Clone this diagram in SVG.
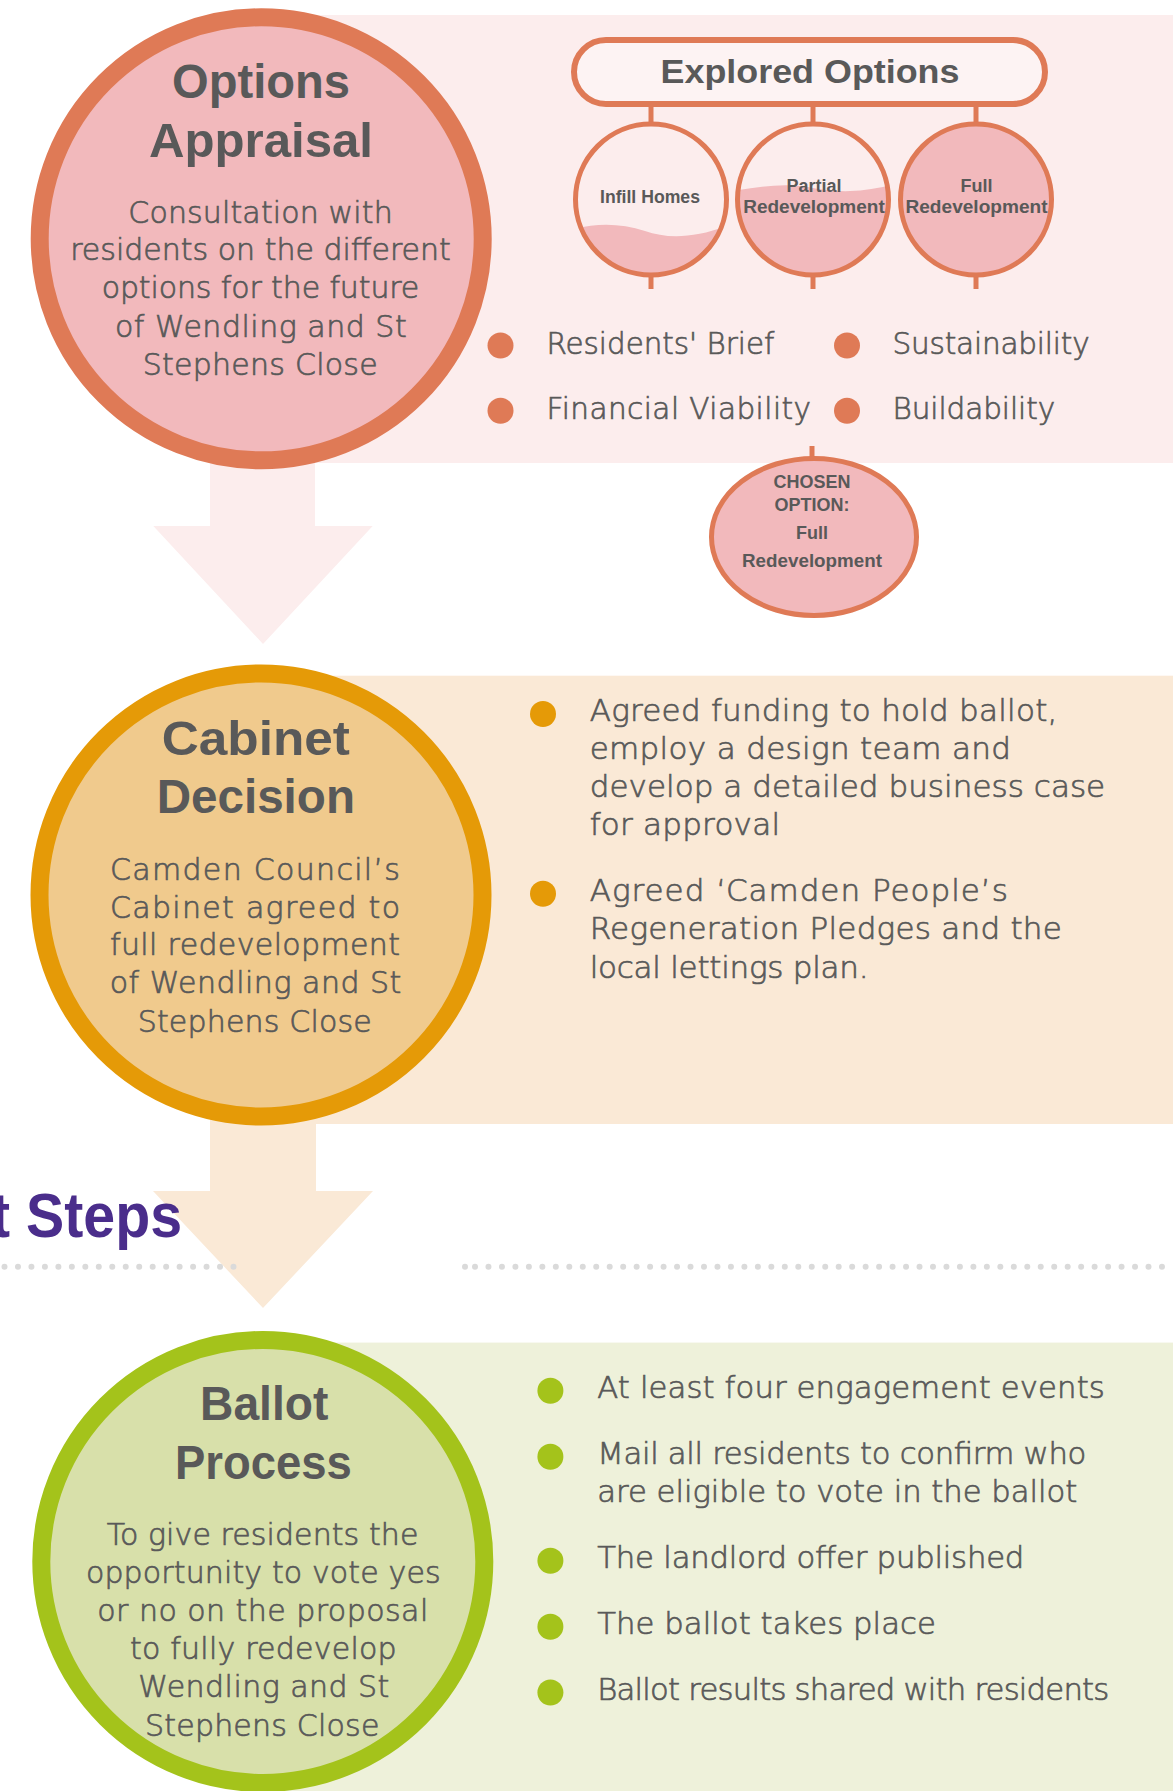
<svg xmlns="http://www.w3.org/2000/svg" width="1173" height="1791" viewBox="0 0 1173 1791">
  <style>
    .title { font-family: "Liberation Sans", Arial, sans-serif; font-weight: bold; font-size: 48px; fill: #595959; text-anchor: middle; }
    .body { font-family: "DejaVu Sans", Verdana, sans-serif; font-weight: 300; font-size: 30px; fill: #595959; stroke: #595959; stroke-width: 0.7; text-anchor: middle; }
    .bullet { font-family: "DejaVu Sans", Verdana, sans-serif; font-weight: 300; fill: #595959; stroke: #595959; stroke-width: 0.7; }
    .opt { font-family: "Liberation Sans", Arial, sans-serif; font-weight: bold; font-size: 18px; fill: #595959; text-anchor: middle; }
    .dot-pink { fill: #DF7A56; }
    .dot-orange { fill: #E59A07; }
    .dot-green { fill: #A4C31B; }
    .rule { stroke: #DADADA; stroke-width: 6; stroke-linecap: round; stroke-dasharray: 0 13.47; fill: none; }
  </style>
  <defs>
    <clipPath id="clip-infill"><circle cx="651" cy="199.5" r="75.5"/></clipPath>
    <clipPath id="clip-partial"><circle cx="813" cy="199.5" r="75.5"/></clipPath>
  </defs>

  <rect width="1173" height="1791" fill="#FFFFFF"/>

  <!-- background bands for each stage -->
  <g id="bands">
    <rect x="261" y="15" width="912" height="448" fill="#FCEDED"/>
    <rect x="261" y="675.7" width="912" height="448.3" fill="#FAE9D6"/>
    <rect x="261" y="1342.6" width="912" height="448.4" fill="#EEF1DA"/>
  </g>

  <!-- flow arrows and option links -->
  <g id="connectors">
    <polygon points="210,440 315,440 315,526 372.7,526 263,644 153.3,526 210,526" fill="#FCEDED"/>
    <polygon points="210,1100 316,1100 316,1191 373,1191 263,1308 153,1191 210,1191" fill="#FAE9D6"/>
    <g stroke="#DF7A56" stroke-width="5" fill="none">
      <line x1="651" y1="104" x2="651" y2="124"/>
      <line x1="813" y1="104" x2="813" y2="124"/>
      <line x1="976" y1="104" x2="976" y2="124"/>
      <line x1="651" y1="275" x2="651" y2="289"/>
      <line x1="813" y1="275" x2="813" y2="289"/>
      <line x1="976" y1="275" x2="976" y2="289"/>
      <line x1="812" y1="446" x2="812" y2="460"/>
    </g>
  </g>

  <!-- section divider -->
  <g id="next-steps-divider">
    <line class="rule" x1="4.5" y1="1266.7" x2="235" y2="1266.7"/>
    <circle cx="465" cy="1266.7" r="3" fill="#DADADA"/>
    <line class="rule" x1="475" y1="1266.7" x2="1173" y2="1266.7"/>
    <text x="-9" y="1237.3" font-family="Liberation Sans, Arial, sans-serif" font-weight="bold" font-size="63" fill="#4A2D8B" textLength="191" lengthAdjust="spacingAndGlyphs">t Steps</text>
  </g>

  <!-- stage 1 -->
  <g id="options-appraisal">
    <circle cx="261.2" cy="238.8" r="221.5" fill="#F2B9BC" stroke="#DF7A56" stroke-width="18"/>
    <text class="title" x="261" y="98.3" textLength="178" lengthAdjust="spacingAndGlyphs">Options</text>
    <text class="title" x="261" y="156.7" textLength="224" lengthAdjust="spacingAndGlyphs">Appraisal</text>
    <text class="body" x="260.5" y="222.5" textLength="264.4">Consultation with</text>
    <text class="body" x="260.5" y="260.3" textLength="380.7">residents on the different</text>
    <text class="body" x="260.5" y="298" textLength="317.6">options for the future</text>
    <text class="body" x="260.8" y="336.5" textLength="291.7">of Wendling and St</text>
    <text class="body" x="260.2" y="375" textLength="235">Stephens Close</text>
  </g>

  <g id="explored-options">
    <rect x="574" y="40" width="471" height="64" rx="32" fill="#FDF3F3" stroke="#DF7A56" stroke-width="6"/>
    <text x="810" y="83" font-family="Liberation Sans, Arial, sans-serif" font-weight="bold" font-size="33" fill="#595959" text-anchor="middle" textLength="299" lengthAdjust="spacingAndGlyphs">Explored Options</text>
  </g>

  <g id="option-infill">
    <circle cx="651" cy="199.5" r="75.5" fill="#FCEDED"/>
    <path clip-path="url(#clip-infill)" d="M 570 230 C 595 223, 620 223, 645 231 C 668 239, 695 239, 735 223 L 735 285 L 570 285 Z" fill="#F2B9BC"/>
    <circle cx="651" cy="199.5" r="75.5" fill="none" stroke="#DF7A56" stroke-width="5"/>
    <text class="opt" x="650" y="203" textLength="100" lengthAdjust="spacingAndGlyphs">Infill Homes</text>
  </g>

  <g id="option-partial">
    <circle cx="813" cy="199.5" r="75.5" fill="#FCEDED"/>
    <path clip-path="url(#clip-partial)" d="M 732 191 C 758 187, 782 183, 808 187 C 832 192, 858 194, 895 184 L 895 285 L 732 285 Z" fill="#F2B9BC"/>
    <circle cx="813" cy="199.5" r="75.5" fill="none" stroke="#DF7A56" stroke-width="5"/>
    <text class="opt" x="814" y="192">Partial</text>
    <text class="opt" x="814" y="213" textLength="141.6" lengthAdjust="spacingAndGlyphs">Redevelopment</text>
  </g>

  <g id="option-full">
    <circle cx="976" cy="199.5" r="75.5" fill="#F2B9BC" stroke="#DF7A56" stroke-width="5"/>
    <text class="opt" x="976.5" y="192">Full</text>
    <text class="opt" x="976.5" y="213" textLength="142" lengthAdjust="spacingAndGlyphs">Redevelopment</text>
  </g>

  <g id="appraisal-criteria">
    <circle class="dot-pink" cx="500.5" cy="345.5" r="13"/>
    <circle class="dot-pink" cx="500.5" cy="410.7" r="13"/>
    <circle class="dot-pink" cx="847" cy="345.5" r="13"/>
    <circle class="dot-pink" cx="847" cy="410.7" r="13"/>
    <text class="bullet" font-size="29.5" x="546.4" y="354" textLength="228" lengthAdjust="spacingAndGlyphs">Residents' Brief</text>
    <text class="bullet" font-size="29.5" x="546.4" y="419.3" textLength="264.6">Financial Viability</text>
    <text class="bullet" font-size="29.5" x="892.4" y="354" textLength="197.3">Sustainability</text>
    <text class="bullet" font-size="29.5" x="892.4" y="419.3" textLength="162.8">Buildability</text>
  </g>

  <g id="chosen-option">
    <ellipse cx="814" cy="537" rx="102.5" ry="78.5" fill="#F2B9BC" stroke="#DF7A56" stroke-width="5"/>
    <text class="opt" font-size="17.5" x="812" y="488.3">CHOSEN</text>
    <text class="opt" font-size="17.5" x="812" y="510.7">OPTION:</text>
    <text class="opt" font-size="17.5" x="812" y="539">Full</text>
    <text class="opt" font-size="17.5" x="812" y="566.7" textLength="140" lengthAdjust="spacingAndGlyphs">Redevelopment</text>
  </g>

  <!-- stage 2 -->
  <g id="cabinet-decision">
    <circle cx="261" cy="895" r="221.5" fill="#F0CA8D" stroke="#E59A07" stroke-width="18"/>
    <text class="title" x="255.8" y="755" textLength="188.3" lengthAdjust="spacingAndGlyphs">Cabinet</text>
    <text class="title" x="255.8" y="813.3" textLength="198.3" lengthAdjust="spacingAndGlyphs">Decision</text>
    <text class="body" x="255" y="880" textLength="290">Camden Council’s</text>
    <text class="body" x="255" y="917.5" textLength="290">Cabinet agreed to</text>
    <text class="body" x="255" y="955" textLength="290">full redevelopment</text>
    <text class="body" x="255.5" y="993" textLength="291.7">of Wendling and St</text>
    <text class="body" x="254.7" y="1031.7" textLength="234">Stephens Close</text>
  </g>

  <g id="cabinet-outcomes">
    <circle class="dot-orange" cx="543" cy="714" r="13"/>
    <circle class="dot-orange" cx="543" cy="893.7" r="13"/>
    <text class="bullet" font-size="31" x="589.7" y="721" textLength="467.7">Agreed funding to hold ballot,</text>
    <text class="bullet" font-size="31" x="589.7" y="759" textLength="421.2">employ a design team and</text>
    <text class="bullet" font-size="31" x="589.7" y="797" textLength="515.5">develop a detailed business case</text>
    <text class="bullet" font-size="31" x="589.7" y="835" textLength="190.3">for approval</text>
    <text class="bullet" font-size="31" x="589.7" y="901" textLength="418.1">Agreed ‘Camden People’s</text>
    <text class="bullet" font-size="31" x="589.7" y="939" textLength="472.1">Regeneration Pledges and the</text>
    <text class="bullet" font-size="31" x="589.7" y="977.5" textLength="278.8">local lettings plan.</text>
  </g>

  <!-- stage 3 -->
  <g id="ballot-process">
    <circle cx="262.8" cy="1561.5" r="221.5" fill="#D8E0AA" stroke="#A4C31B" stroke-width="18"/>
    <text class="title" x="264.2" y="1420" textLength="128.3" lengthAdjust="spacingAndGlyphs">Ballot</text>
    <text class="title" x="263.3" y="1479.4" textLength="176.7" lengthAdjust="spacingAndGlyphs">Process</text>
    <text class="body" x="262.5" y="1544.6" textLength="311.7">To give residents the</text>
    <text class="body" x="263.3" y="1583.2" textLength="354.7">opportunity to vote yes</text>
    <text class="body" x="262.8" y="1621.3" textLength="331">or no on the proposal</text>
    <text class="body" x="263.3" y="1658.7" textLength="266.7">to fully redevelop</text>
    <text class="body" x="263.8" y="1696.8" textLength="251">Wendling and St</text>
    <text class="body" x="262.2" y="1735.5" textLength="234.3">Stephens Close</text>
  </g>

  <g id="ballot-steps">
    <circle class="dot-green" cx="550.4" cy="1390.8" r="13"/>
    <circle class="dot-green" cx="550.4" cy="1456.8" r="13"/>
    <circle class="dot-green" cx="550.4" cy="1560.8" r="13"/>
    <circle class="dot-green" cx="550.4" cy="1626.8" r="13"/>
    <circle class="dot-green" cx="550.4" cy="1692.5" r="13"/>
    <text class="bullet" font-size="30.7" x="597.3" y="1398.3" textLength="507.5">At least four engagement events</text>
    <text class="bullet" font-size="30.7" x="597.3" y="1464" textLength="489">Mail all residents to confirm who</text>
    <text class="bullet" font-size="30.7" x="597.3" y="1502.3" textLength="480">are eligible to vote in the ballot</text>
    <text class="bullet" font-size="30.7" x="597.3" y="1568.3" textLength="427">The landlord offer published</text>
    <text class="bullet" font-size="30.7" x="597.3" y="1634" textLength="338.5">The ballot takes place</text>
    <text class="bullet" font-size="30.7" x="597.3" y="1700" textLength="512">Ballot results shared with residents</text>
  </g>
</svg>
